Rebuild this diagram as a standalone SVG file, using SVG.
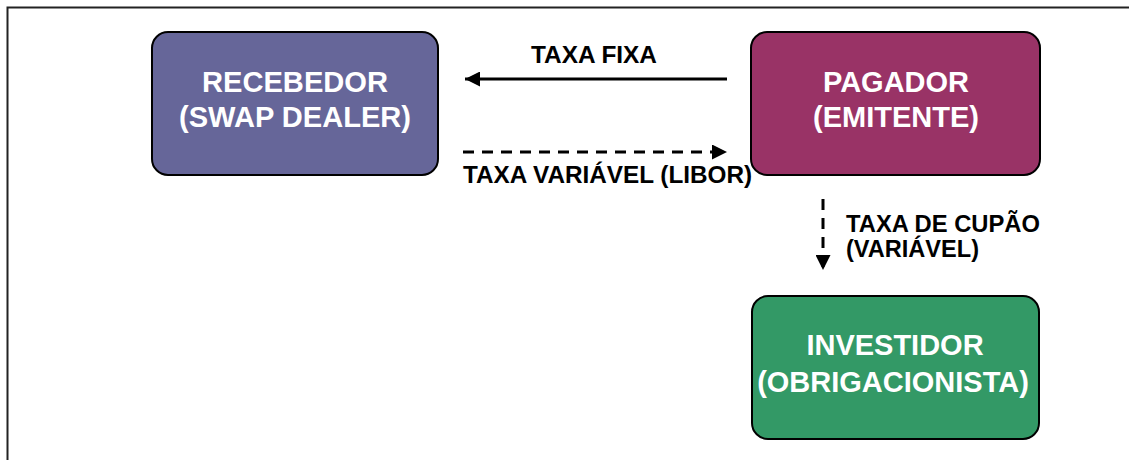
<svg xmlns="http://www.w3.org/2000/svg" width="1129" height="460" viewBox="0 0 1129 460">
<style>
.box{stroke:#000;stroke-width:2}
.nt{font-family:"Liberation Sans",Arial,sans-serif;font-weight:bold;font-size:29px;fill:#fff;text-anchor:middle}
.lb{font-family:"Liberation Sans",Arial,sans-serif;font-weight:bold;font-size:23px;fill:#000}
.ln{stroke:#000;stroke-width:3;fill:none}
.dash{stroke-dasharray:11 8}
</style>
<defs>
<marker id="ah" viewBox="0 0 10 10" refX="10" refY="5" markerWidth="5" markerHeight="5" orient="auto" markerUnits="strokeWidth">
<path d="M0,0 L10,5 L0,10 Z" fill="#000"/>
</marker>
</defs>
<rect width="1129" height="460" fill="#fff"/>
<path d="M7.5,460 V7.5 H1129" fill="none" stroke="#222" stroke-width="2"/>
<g id="recebedor">
<rect class="box" x="152" y="32" width="286" height="143" rx="16" fill="#666699"/>
<text class="nt" x="295" y="92" textLength="186" lengthAdjust="spacingAndGlyphs">RECEBEDOR</text>
<text class="nt" x="295" y="127" textLength="232" lengthAdjust="spacingAndGlyphs">(SWAP DEALER)</text>
</g>
<g id="pagador">
<rect class="box" x="751" y="32" width="289" height="143" rx="16" fill="#993366"/>
<text class="nt" x="896" y="92">PAGADOR</text>
<text class="nt" x="896" y="127">(EMITENTE)</text>
</g>
<g id="investidor">
<rect class="box" x="752" y="296" width="287" height="143" rx="16" fill="#339966"/>
<text class="nt" x="895" y="355">INVESTIDOR</text>
<text class="nt" x="893" y="392">(OBRIGACIONISTA)</text>
</g>
<g id="connectors">
<line class="ln" x1="727" y1="79" x2="465" y2="79" marker-end="url(#ah)"/>
<text class="lb" x="531" y="63" textLength="126" lengthAdjust="spacingAndGlyphs">TAXA FIXA</text>
<line class="ln dash" x1="463" y1="152" x2="727" y2="152" marker-end="url(#ah)"/>
<text class="lb" x="463" y="183" textLength="289" lengthAdjust="spacingAndGlyphs">TAXA VARIÁVEL (LIBOR)</text>
<line class="ln dash" x1="823" y1="199" x2="823" y2="270" marker-end="url(#ah)"/>
<text class="lb" x="846" y="232" textLength="194" lengthAdjust="spacingAndGlyphs">TAXA DE CUPÃO</text>
<text class="lb" x="846" y="257" textLength="133" lengthAdjust="spacingAndGlyphs">(VARIÁVEL)</text>
</g>
</svg>
